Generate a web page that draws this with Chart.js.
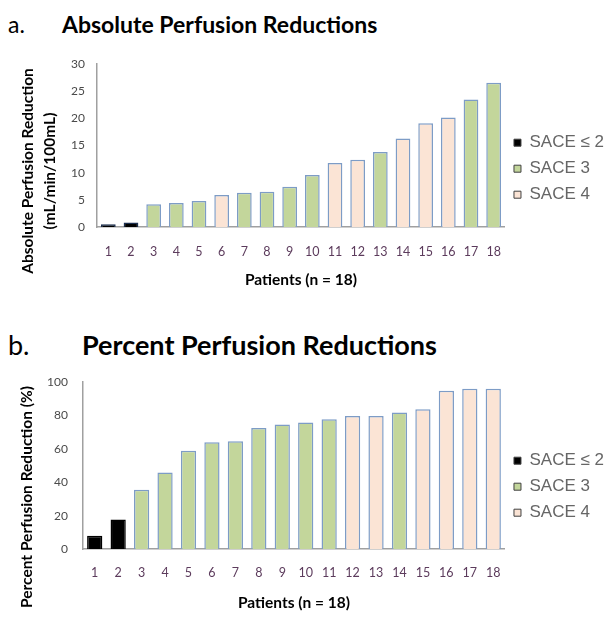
<!DOCTYPE html>
<html>
<head>
<meta charset="utf-8">
<script src="https://cdn.jsdelivr.net/npm/chart.js@4.4.0/dist/chart.umd.min.js"></script>
<style>
  body { margin: 0; background: #fff; width: 614px; height: 626px; position: relative; overflow: hidden; font-family: Lato, sans-serif; }
  .heading { position: absolute; left: 8px; color: #000; white-space: nowrap; }
  .heading b { position: absolute; top: 0; }
  canvas { position: absolute; left: 0; }
</style>
</head>
<body>
<div class="heading" style="top:13px;font-size:23px;line-height:23px">a.<b style="left:54px">Absolute Perfusion Reductions</b></div>
<div class="heading" style="top:331px;font-size:27px;line-height:27px">b.<b style="left:74px">Percent Perfusion Reductions</b></div>
<canvas id="chart-a" width="614" height="265" style="top:45px"></canvas>
<canvas id="chart-b" width="614" height="266" style="top:360px"></canvas>
<script>
// Patients, sorted by reduction in each panel
const patients = ['1', '2', '3', '4', '5', '6', '7', '8', '9', '10', '11', '12', '13', '14', '15', '16', '17', '18'];

// a. absolute perfusion reduction (mL/min/100mL) and SACE grade per bar
const absoluteReduction = [0.5, 0.85, 4.2, 4.4, 4.8, 5.9, 6.3, 6.5, 7.4, 9.6, 11.8, 12.4, 13.8, 16.3, 19.1, 20.2, 23.5, 26.6];
const absoluteSace = [2, 2, 3, 3, 3, 4, 3, 3, 3, 3, 4, 4, 3, 4, 4, 4, 3, 3];

// b. percent perfusion reduction (%) and SACE grade per bar
const percentReduction = [8, 17.7, 35.5, 45.9, 58.9, 64, 64.6, 72.6, 74.6, 75.8, 77.8, 79.8, 79.8, 81.8, 83.8, 94.8, 96, 96];
const percentSace = [2, 2, 3, 3, 3, 3, 3, 3, 3, 3, 3, 4, 4, 3, 4, 4, 4, 4];

const saceGroups = ['SACE \u2264 2', 'SACE 3', 'SACE 4'];
const saceGrades = [2, 3, 4];

// styles
const saceFill = ['#000000', '#c3d69b', '#fbe4d5'];
const barBorder = ['#1c2f4f', '#7d9cc6', '#7d9cc6'];
const axisColor = '#a0a0a0';

// draws the rotated y axis title (Excel centres it lower than the plot)
const sideTitle = {
    id: 'sideTitle',
    afterDraw(chart, args, opts) {
        const ctx = chart.ctx;
        ctx.save();
        ctx.font = opts.font;
        ctx.fillStyle = '#000';
        ctx.textAlign = 'center';
        ctx.textBaseline = 'middle';
        opts.lines.forEach((line, i) => {
            ctx.save();
            ctx.translate(opts.x + i * opts.lineGap, opts.y);
            ctx.rotate(-Math.PI / 2);
            ctx.fillText(line, 0, 0);
            ctx.restore();
        });
        ctx.restore();
    }
};

function makeChart(id, values, grades, cfg) {
    const idx = grades.map(g => saceGrades.indexOf(g));
    return new Chart(document.getElementById(id), {
        type: 'bar',
        data: {
            labels: patients,
            datasets: [{
                data: values,
                backgroundColor: idx.map(i => saceFill[i]),
                borderColor: idx.map(i => (i === 0 ? cfg.blackBorder : barBorder[i])),
                borderWidth: 1.5,
                barPercentage: 0.65,
                categoryPercentage: 1
            }]
        },
        plugins: [sideTitle],
        options: {
            responsive: false,
            animation: false,
            layout: { padding: { top: cfg.padTop, left: 0, right: 0, bottom: 0 } },
            scales: {
                x: {
                    grid: { display: false, drawTicks: false },
                    border: { display: true, color: axisColor, width: 1.5 },
                    ticks: { color: '#5c3b5c', font: { family: 'Lato', size: 12.5 }, padding: cfg.xTickPad, maxRotation: 0, autoSkip: false },
                    title: {
                        display: true,
                        text: 'Patients (n = 18)',
                        color: '#000',
                        font: { family: 'Lato', size: 15.5, weight: 'bold' },
                        padding: { top: 0, bottom: cfg.xTitlePad }
                    },
                    afterFit: axis => { axis.height = cfg.xHeight; }
                },
                y: {
                    min: 0,
                    max: cfg.yMax,
                    grid: { display: false, drawTicks: false },
                    border: { display: true, color: axisColor, width: 1.5 },
                    ticks: { stepSize: cfg.yStep, color: '#4a4a4a', font: { family: 'Lato', size: 12 }, padding: cfg.yTickPad },
                    afterFit: axis => { axis.width = cfg.yWidth; }
                }
            },
            plugins: {
                tooltip: { enabled: false },
                legend: {
                    position: 'right',
                    align: 'start',
                    fullSize: false,
                    onClick: null,
                    title: { display: true, text: '', font: { size: 10, lineHeight: 1 }, padding: { top: cfg.legendDrop, bottom: 0 } },
                    labels: {
                        boxWidth: 7,
                        boxHeight: 7,
                        padding: 9,
                        color: '#000',
                        font: { family: 'Liberation Sans', size: 17 },
                        generateLabels: () => saceGroups.map((text, i) => ({
                            text: text,
                            fillStyle: saceFill[i],
                            strokeStyle: '#404040',
                            lineWidth: 1,
                            hidden: false,
                            datasetIndex: 0
                        }))
                    }
                },
                sideTitle: cfg.sideTitle
            }
        }
    });
}

makeChart('chart-a', absoluteReduction, absoluteSace, {
    yMax: 30, yStep: 5, padTop: 15, yWidth: 97, xHeight: 83,
    xTickPad: 17, yTickPad: 12, xTitlePad: 21, legendDrop: 51,
    blackBorder: '#1c2f4f',
    sideTitle: {
        lines: ['Absolute Perfusion Reduction', '(mL/min/100mL)'],
        x: 28, y: 126, lineGap: 22,
        font: 'bold 15.5px Lato'
    }
});

makeChart('chart-b', percentReduction, percentSace, {
    yMax: 100, yStep: 20, padTop: 22, yWidth: 83, xHeight: 77,
    xTickPad: 16, yTickPad: 15, xTitlePad: 14, legendDrop: 51,
    blackBorder: '#000000',
    sideTitle: {
        lines: ['Percent Perfusion Reduction (%)'],
        x: 27, y: 137, lineGap: 22,
        font: 'bold 15.5px Lato'
    }
});
</script>
</body>
</html>
